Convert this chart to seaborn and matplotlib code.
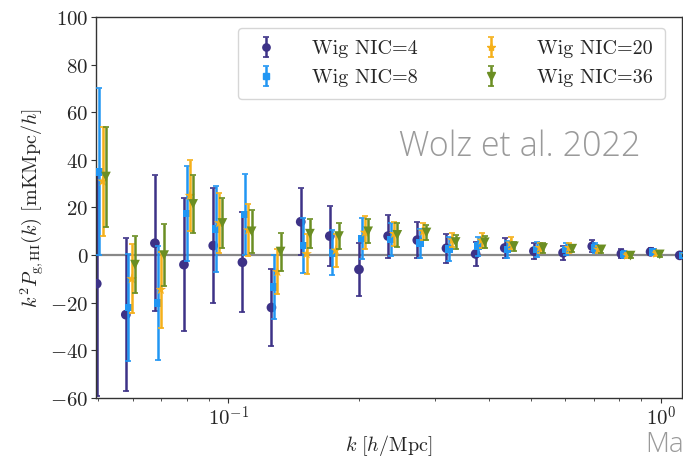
import numpy as np
import pandas as pd
import matplotlib
matplotlib.use("Agg")
import matplotlib.pyplot as plt
import seaborn as sns

# ---------------- data ----------------
k_bins = [0.0496, 0.0579, 0.0676, 0.0789, 0.0922, 0.1077, 0.1257, 0.1469,
          0.1715, 0.2003, 0.2339, 0.2732, 0.3191, 0.3727, 0.4352, 0.5083,
          0.5937, 0.6934, 0.8098, 0.9458, 1.1045]

series_names = ["Wig NIC=4", "Wig NIC=8", "Wig NIC=20", "Wig NIC=36"]

nic4 = [-12, -25, 5, -4, 4, -3, -22, 14, 8, -6, 8, 6.3, 2.9, 0.5, 3, 1.7, 1, 3.7, 0.6, 1.4, -0.1]
nic4_err = [47, 32, 28.5, 28, 24, 21, 16, 14, 12.5, 11, 9, 7.5, 6, 5, 4, 3.5, 3, 2.5, 1.8, 1.5, 1.2]

nic8 = [35, -22, -20, 17.5, 11, 17, -13.5, 4, 1, 7, 6.5, 5, 2.5, 3.7, 2.3, 2.4, 2.4, 3, 0.3, 1.3, -0.1]
nic8_err = [35, 22.5, 24, 20, 18, 17, 13.5, 11.5, 9.5, 8.5, 7, 6, 5, 4, 3.5, 3, 2.5, 2, 1.5, 1.2, 1]

nic20 = [31, -10, -14.5, 25, 13.5, 10.5, -7, 0.5, 2, 9.5, 9, 10, 6.3, 6.2, 5, 3.1, 3.1, 2.4, -0.1, 0.7, 0]
nic20_err = [23, 14.5, 16, 15, 12.5, 11, 9.5, 8.5, 7, 7, 5, 3.5, 3, 3, 2.5, 2, 2, 1.5, 1.2, 1, 1]

nic36 = [33, -4, 0, 21.5, 13.5, 10, 1.5, 9, 8, 10, 8.5, 9.5, 5.5, 5.4, 3.7, 3, 2.7, 2.4, -0.2, 0.3, 0]
nic36_err = [21, 12, 13, 12, 10.5, 9, 8, 6, 5.5, 5, 5, 3, 3, 2.5, 2, 2, 1.5, 1.3, 1, 1, 1]

ytick_values = [-60, -40, -20, 0, 20, 40, 60, 80, 100]
ytick_labels = [r"$-60$", r"$-40$", r"$-20$", r"$0$", r"$20$", r"$40$", r"$60$", r"$80$", r"$100$"]
xtick_values = [0.1, 1.0]
xtick_labels = [r"$10^{-1}$", r"$10^{0}$"]

# ---------------- style ----------------
sns.set_theme(style="ticks")
plt.rcParams["font.family"] = ["DejaVu Sans"]
plt.rcParams["mathtext.fontset"] = "cm"

colors = ["#3d3287", "#2196f3", "#f5b01a", "#6b8e23"]
markers = ["o", "s", "*", "v"]
msizes = [7, 5.5, 8, 7]
shifts = [1.0, 1.014, 1.032, 1.05]

values = [nic4, nic8, nic20, nic36]
errors = [nic4_err, nic8_err, nic20_err, nic36_err]

frames = []
for name, v, e, s in zip(series_names, values, errors, shifts):
    frames.append(pd.DataFrame({"k": np.array(k_bins) * s, "P": v, "err": e, "series": name}))
df = pd.concat(frames, ignore_index=True)

fig = plt.figure(figsize=(6.83, 4.57), dpi=100)
ax = fig.add_axes([96 / 683, 1 - 398 / 457, 586 / 683, 381 / 457])

ax.axhline(0, color="#888888", lw=1.6, zorder=1)

handles = []
for i, name in enumerate(series_names):
    sub = df[df["series"] == name]
    ax.errorbar(sub["k"], sub["P"], yerr=sub["err"], fmt="none",
                ecolor=colors[i], elinewidth=1.8, capsize=2.2, capthick=1.2, zorder=2 + i)
    sns.scatterplot(data=sub, x="k", y="P", ax=ax, color=colors[i], marker=markers[i],
                    s=msizes[i] ** 2, edgecolor="none", linewidth=0, legend=False, zorder=3 + i)
    h = ax.errorbar([np.nan], [np.nan], yerr=[np.nan], fmt=markers[i], color=colors[i],
                    ms=msizes[i] * 0.75, elinewidth=1.8, capsize=2.2, capthick=1.2, label=name)
    handles.append(h)

ax.set_xscale("log")
ax.set_xlim(0.0494, 1.118)
ax.set_ylim(-60, 100)
ax.set_yticks(ytick_values)
ax.set_yticklabels(ytick_labels, fontsize=15)
ax.set_xticks(xtick_values)
ax.set_xticklabels(xtick_labels, fontsize=15)
ax.tick_params(axis="both", which="major", length=3.5, width=0.8, color="#333333", pad=2)
ax.tick_params(axis="x", which="minor", length=2, width=0.6, color="#333333")
for sp in ax.spines.values():
    sp.set_color("#333333")
    sp.set_linewidth(1.0)

ax.set_xlabel(r"$k\ [h/\mathrm{Mpc}]$", fontsize=14.5, labelpad=2)
ax.set_ylabel(r"$k^2P_{\mathrm{g,HI}}(k)\ [\mathrm{mKMpc}/h]$", fontsize=14.5, labelpad=2)

leg = ax.legend(handles, series_names, ncol=2, loc="upper right",
                prop={"family": "cmr10", "size": 14.5},
                frameon=True, fancybox=True, handlelength=1.6, handletextpad=1.5,
                columnspacing=2.8, borderpad=0.6, labelspacing=0.55,
                borderaxespad=0.0, bbox_to_anchor=(0.971, 0.971))
leg.get_frame().set_edgecolor("#cccccc")
leg.get_frame().set_linewidth(1.0)

fig.text(0.761, 0.679, "Wolz et al. 2022", ha="center", va="center",
         fontsize=24.5, color="#9a9a9a", family=["Open Sans", "DejaVu Sans"], fontweight="light")
fig.text(0.944, 0.012, "Ma", ha="left", va="baseline", fontsize=20,
         color="#9a9a9a", family=["Open Sans", "DejaVu Sans"], fontweight="light")

fig.savefig("out.png", dpi=100)
